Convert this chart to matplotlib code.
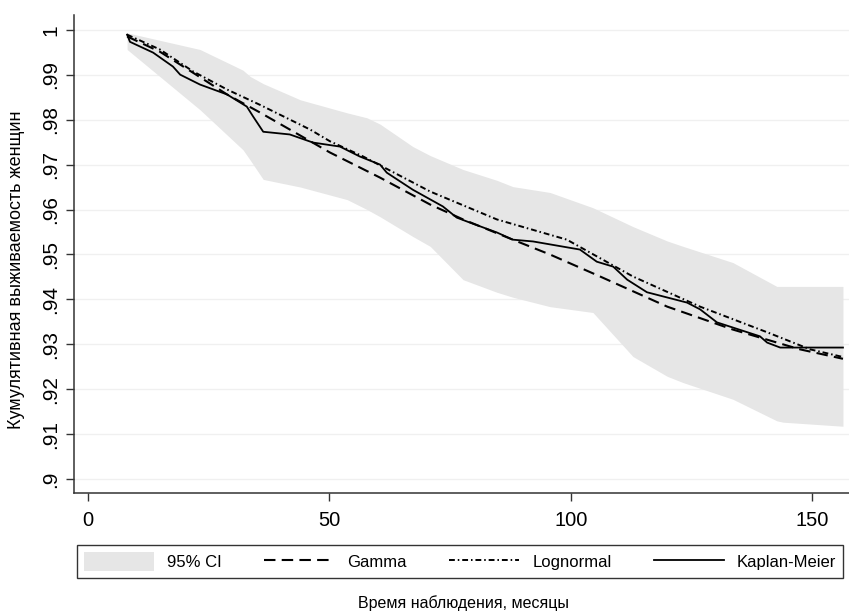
import numpy as np
import matplotlib
matplotlib.use('Agg')
from matplotlib import pyplot as plt
from matplotlib.patches import Patch
from matplotlib.lines import Line2D

plt.rcParams['font.family'] = ['Liberation Sans', 'DejaVu Sans']

# Kaplan-Meier estimate
km_t = [8.1, 8.7, 13.5, 17.6, 19.1, 23.2, 28.8, 32.9, 34.2, 36.3, 41.8, 46.6, 52.2,
        56.3, 60.5, 61.9, 67.3, 73.5, 76.4, 79.1, 84.7, 88.0, 92.2, 101.9, 105.4,
        108.8, 111.7, 115.8, 124.1, 126.8, 130.3, 139.2, 140.7, 143.4, 156.4]
km_s = [0.9989, 0.9973, 0.9949, 0.9918, 0.9900, 0.9878, 0.9856, 0.9829, 0.9807,
        0.9773, 0.9767, 0.9749, 0.9740, 0.9718, 0.9700, 0.9682, 0.9644, 0.9607,
        0.9582, 0.9571, 0.9549, 0.9533, 0.9529, 0.9511, 0.9484, 0.9473, 0.9444,
        0.9416, 0.9393, 0.9378, 0.9349, 0.9318, 0.9304, 0.9293, 0.9293]

# Gamma model
gam_t = [8.1, 14.9, 21.8, 28.8, 35.6, 41.8, 50.1, 60.5, 70.9, 77.7, 88.0, 95.7,
         106.1, 120.0, 133.6, 147.5, 156.4]
gam_s = [0.9985, 0.9951, 0.9904, 0.9856, 0.9816, 0.9778, 0.9727, 0.9671, 0.9611,
         0.9578, 0.9533, 0.9500, 0.9451, 0.9384, 0.9333, 0.9289, 0.9268]

# Lognormal model
logn_t = [8.1, 14.9, 21.8, 28.8, 35.6, 46.0, 50.1, 57.0, 70.9, 84.7, 99.2, 112.9,
          126.8, 140.7, 149.6, 156.4]
logn_s = [0.9989, 0.9956, 0.9907, 0.9867, 0.9833, 0.9778, 0.9752, 0.9718, 0.9640,
          0.9578, 0.9533, 0.9451, 0.9384, 0.9327, 0.9289, 0.9272]

# 95% confidence band
ci_t = [8.1, 23.2, 32.1, 33.6, 36.3, 44.0, 53.7, 57.8, 60.5, 67.3, 70.9, 77.7, 84.7,
        88.0, 95.7, 104.6, 112.9, 120.0, 123.3, 133.6, 142.7, 144.0, 156.4]
ci_lo = [0.9956, 0.9822, 0.9733, 0.9710, 0.9667, 0.9650, 0.9622, 0.9600, 0.9584,
         0.9540, 0.9518, 0.9444, 0.9416, 0.9405, 0.9384, 0.9371, 0.9273, 0.9229,
         0.9215, 0.9178, 0.9130, 0.9127, 0.9118]
ci_hi = [0.9993, 0.9956, 0.9910, 0.9896, 0.9880, 0.9844, 0.9815, 0.9804, 0.9790,
         0.9740, 0.9720, 0.9689, 0.9665, 0.9651, 0.9638, 0.9604, 0.9562, 0.9530,
         0.9518, 0.9482, 0.9429, 0.9429, 0.9429]

x_ticks = [0, 50, 100, 150]
y_ticks = [0.9, 0.91, 0.92, 0.93, 0.94, 0.95, 0.96, 0.97, 0.98, 0.99, 1.0]
y_labels = ['.9', '.91', '.92', '.93', '.94', '.95', '.96', '.97', '.98', '.99', '1']

fig = plt.figure(figsize=(8.49, 6.16), dpi=100)
ax = fig.add_axes([74/849, 1-493/616, 1-74/849, (493-15)/616])

band_col = '#e6e6e6'
ax.fill_between(ci_t, ci_lo, ci_hi, color=band_col, lw=0, zorder=1)
ax.plot(gam_t, gam_s, color='black', lw=1.5, dashes=(5.5, 3), zorder=3)
ax.plot(logn_t, logn_s, color='black', lw=1.4, dashes=(3, 1.5, 0.8, 1.5), zorder=3)
ax.plot(km_t, km_s, color='black', lw=1.3, zorder=4)

ax.set_xlim(-2.9, 157.65)
ax.set_ylim(0.89695, 1.00327)
ax.set_xticks(x_ticks)
ax.set_yticks(y_ticks)
ax.set_yticklabels(y_labels, rotation=90, va='center')
ax.tick_params(axis='x', labelsize=14.5, length=6, width=1, color='#333333', pad=7)
ax.tick_params(axis='y', labelsize=15, length=6, width=1, color='#333333', pad=4)
ax.yaxis.grid(True, color='#f0f0f0', lw=1)
ax.set_axisbelow(True)
for s in ['top', 'right']:
    ax.spines[s].set_visible(False)
for s in ['left', 'bottom']:
    ax.spines[s].set_color('#333333')
    ax.spines[s].set_linewidth(1.1)

ax.set_ylabel('Кумулятивная выживаемость женщин', fontsize=13)
ax.yaxis.set_label_coords((25 - 74) / 775, (493 - 270) / 478)

handles = [Patch(facecolor=band_col, edgecolor='none'),
           Line2D([], [], color='black', lw=1.5, dashes=(5.5, 3)),
           Line2D([], [], color='black', lw=1.4, dashes=(3, 1.5, 0.8, 1.5)),
           Line2D([], [], color='black', lw=1.3)]
labels = ['95% CI', 'Gamma', 'Lognormal', 'Kaplan-Meier']
leg = fig.legend(handles, labels, ncol=4, mode='expand', fontsize=12,
                 bbox_to_anchor=(77/849, 1-578/616, (843-77)/849, 41/616),
                 loc='lower left', borderaxespad=0, frameon=True, fancybox=False,
                 handlelength=4.2, handleheight=1.4, handletextpad=0.8,
                 columnspacing=1.0)
leg.get_frame().set_edgecolor('black')
leg.get_frame().set_linewidth(1.0)

fig.text(463/849, 1-603/616, 'Время наблюдения, месяцы', ha='center', va='center', fontsize=11.5)

fig.savefig('out.png', dpi=100)
